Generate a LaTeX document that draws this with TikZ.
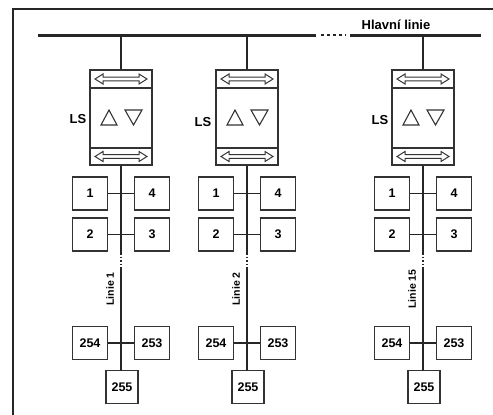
\documentclass[tikz,border=0pt]{standalone}
\usepackage{fontspec}
\setmainfont{Liberation Sans}
\begin{document}
\begin{tikzpicture}[x=1pt,y=-1pt,
  frame/.style={line width=1.5pt,draw=black!85},
  bus/.style={line width=3pt,draw=black!85},
  wire/.style={line width=1.2pt,draw=black!85},
  dev/.style={draw=black!80,line width=1.5pt,minimum width=35pt,minimum height=33pt,inner sep=0pt,font=\bfseries\fontsize{12.5}{12.5}\selectfont},
  lsbox/.style={draw=black!80,line width=1.5pt,minimum width=62pt,minimum height=95pt,inner sep=0pt},
  lbl/.style={font=\bfseries\fontsize{13}{13}\selectfont,inner sep=0pt},
  lin/.style={font=\bfseries\fontsize{10.5}{10.5}\selectfont,inner sep=0pt,rotate=90},
  dbl/.style={draw=black!80,line width=1pt},
  tri/.style={draw=black!80,line width=1.1pt}
]
\useasboundingbox (0,0) rectangle (493,415);
% frame
\draw[frame] (13,415) -- (13,9) -- (493,9);
% main bus
\coordinate (busL) at (38,35);
\coordinate (busA) at (316,35);
\coordinate (busB) at (350,35);
\coordinate (busR) at (481,35);
\draw[bus] (busL) -- (busA);
\draw[bus] (busB) -- (busR);
\draw[line width=2.4pt,draw=black!85,dash pattern=on 2.5pt off 3.5pt] (321,35) -- (346,35);
\node[lbl] (hl) at (396,25) {Hlavní linie};

\foreach \c/\n/\lab/\lsx/\lsy/\linx in {121/a/1/78/119/110, 247/b/2/203/122/236, 423/c/15/380/120/412}{
  \coordinate (top-\n) at (\c,35);
  \node[lsbox] (ls-\n) at (\c,117.5) {};
  \draw[dev] (\c-31,88) -- (\c+31,88);
  \draw[dev] (\c-31,148) -- (\c+31,148);
  % double arrows
  \foreach \ay in {79,156.5}{
    \draw[dbl] (\c-26,\ay) -- (\c-18,\ay-5) -- (\c-18,\ay-1.8) -- (\c+18,\ay-1.8) -- (\c+18,\ay-5) -- (\c+26,\ay) -- (\c+18,\ay+5) -- (\c+18,\ay+1.8) -- (\c-18,\ay+1.8) -- (\c-18,\ay+5) -- cycle;
  }
  % triangles
  \draw[tri] (\c-20,125) -- (\c-4,125) -- (\c-12,110) -- cycle;
  \draw[tri] (\c+4,110) -- (\c+21,110) -- (\c+12.5,125) -- cycle;
  \node[lbl] (lsl-\n) at (\lsx,\lsy) {LS};
  \draw[wire] (top-\n) -- (ls-\n.north);
  % devices
  \node[dev] (d1-\n) at (\c-31,193.5) {1};
  \node[dev] (d4-\n) at (\c+31,193.5) {4};
  \node[dev] (d2-\n) at (\c-31,234.5) {2};
  \node[dev] (d3-\n) at (\c+31,234.5) {3};
  \node[dev] (d254-\n) at (\c-31,343) {254};
  \node[dev] (d253-\n) at (\c+31,343) {253};
  \node[dev,minimum width=32pt] (d255-\n) at (\c+1,387) {255};
  % line
  \coordinate (da-\n) at (\c,253);
  \coordinate (db-\n) at (\c,268);
  \draw[wire] (ls-\n.south) -- (da-\n);
  \draw[wire,dash pattern=on 1.5pt off 2pt] (da-\n) -- (db-\n);
  \draw[wire] (db-\n) -- (\c,370.5);
  \draw[wire] (d1-\n) -- (d4-\n);
  \draw[wire] (d2-\n) -- (d3-\n);
  \draw[wire] (d254-\n) -- (d253-\n);
  \node[lin] (lin-\n) at (\linx,289) {Linie \lab};
}
\end{tikzpicture}
\end{document}
